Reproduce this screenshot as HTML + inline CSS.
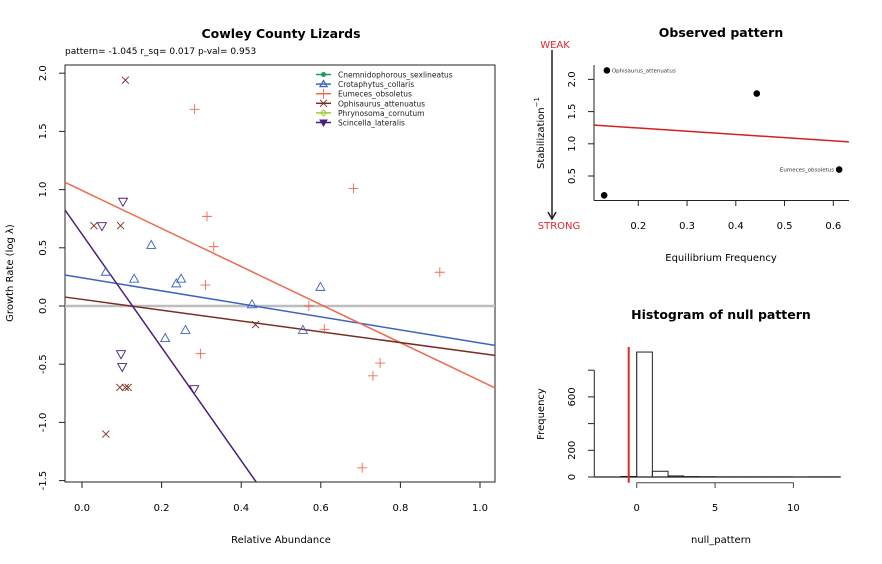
<!DOCTYPE html>
<html><head><meta charset="utf-8"><style>
html,body{margin:0;padding:0;background:#fff;}
svg{display:block;font-family:"DejaVu Sans","Liberation Sans",sans-serif;}
</style></head><body>
<svg id="svg" width="882" height="564" viewBox="0 0 882 564">
<text x="281" y="38" font-size="12.5" font-weight="bold" text-anchor="middle">Cowley County Lizards</text>
<text x="65" y="54" font-size="9">pattern= -1.045 r_sq= 0.017 p-val= 0.953</text>
<text x="281" y="543" font-size="10" text-anchor="middle">Relative Abundance</text>
<text transform="translate(13,273) rotate(-90)" font-size="10" text-anchor="middle">Growth Rate (log  λ)</text>
<g id="main"></g>
<text x="721" y="37" font-size="12.5" font-weight="bold" text-anchor="middle">Observed pattern</text>
<text x="721" y="261" font-size="10" text-anchor="middle">Equilibrium Frequency</text>
<text transform="translate(544,133) rotate(-90)" font-size="10" text-anchor="middle">Stabilization<tspan dy="-5" font-size="7">−1</tspan></text>
<text x="555" y="48" font-size="10" fill="#e3262b" text-anchor="middle">WEAK</text>
<text x="559" y="229" font-size="10" fill="#e3262b" text-anchor="middle">STRONG</text>
<g><line x1="552" y1="50" x2="552" y2="219" stroke="#222" stroke-width="1.5"/><polyline points="548,212 552,219 556,212" fill="none" stroke="#222" stroke-width="1.5"/></g>
<g id="obs"></g>
<text x="721" y="319" font-size="12.5" font-weight="bold" text-anchor="middle">Histogram of null pattern</text>
<text x="721" y="543" font-size="10" text-anchor="middle">null_pattern</text>
<text transform="translate(544,414) rotate(-90)" font-size="10" text-anchor="middle">Frequency</text>
<g id="hist"></g>
</svg>
<script>
// ---- main chart data ----
const species = ["Cnemnidophorous_sexlineatus","Crotaphytus_collaris","Eumeces_obsoletus","Ophisaurus_attenuatus","Phrynosoma_cornutum","Scincella_lateralis"];
const crotX = [0.174,0.060,0.131,0.237,0.249,0.599,0.427,0.260,0.209,0.555];
const crotY = [0.52,0.29,0.23,0.19,0.23,0.16,0.01,-0.21,-0.28,-0.21];
const eumX = [0.283,0.314,0.331,0.310,0.682,0.899,0.298,0.570,0.609,0.749,0.731,0.704];
const eumY = [1.69,0.77,0.51,0.18,1.01,0.29,-0.41,0.00,-0.20,-0.49,-0.60,-1.39];
const ophX = [0.109,0.030,0.097,0.436,0.095,0.109,0.116,0.060];
const ophY = [1.94,0.69,0.69,-0.16,-0.70,-0.70,-0.70,-1.10];
const sciX = [0.103,0.050,0.098,0.101,0.282];
const sciY = [0.90,0.69,-0.41,-0.52,-0.71];
const fitSlope = [-0.559,-1.635,-0.464,-4.864];
const fitIntercept = [0.242,0.993,0.057,0.617];
const xTicks = [0,0.2,0.4,0.6,0.8,1.0];
const xTickLabels = ["0.0","0.2","0.4","0.6","0.8","1.0"];
const yTicks = [2,1.5,1,0.5,0,-0.5,-1,-1.5];
const yTickLabels = ["2.0","1.5","1.0","0.5","0.0","-0.5","-1.0","-1.5"];
// ---- observed pattern data ----
const obsX = [0.1355,0.443,0.612,0.130];
const obsY = [2.14,1.78,0.60,0.20];
const obsLabels = ["Ophisaurus_attenuatus","","Eumeces_obsoletus",""];
const obsSlope = -0.498, obsIntercept = 1.345;
const obsXTicks = [0.2,0.3,0.4,0.5,0.6];
const obsYTicks = [0.5,1.0,1.5,2.0];
// ---- histogram data ----
const binStart = [-3,-2,-1,0,1,2,3,4,5,6,7,8,9,10,11,12];
const binCounts = [0,0,4,936,43,8,3,2,1,1,1,1,1,0,1,1];
const histXTicks = [0,5,10];
const histYTicks = [0,200,400,600,800];
const histYLabels = ["0","200","","600",""];
const observedPattern = -0.51;

const NS="http://www.w3.org/2000/svg";
function mk(parent,tag,attrs,text){const e=document.createElementNS(NS,tag);for(const k in attrs)e.setAttribute(k,attrs[k]);if(text!==undefined)e.textContent=text;parent.appendChild(e);return e;}

// main
const M=document.getElementById('main');
const L=65,R=495,T=65,B=482;
const sx=v=>82+v*398, sy=v=>306-v*116.4;
const xmin=(L-82)/398, xmax=(R-82)/398, ymax=(306-T)/116.4, ymin=(306-B)/116.4;
let box=mk(M,'rect',{x:L,y:T,width:R-L,height:B-T,fill:'none',stroke:'#222','stroke-width':1});


xTicks.forEach((v,i)=>{mk(M,'line',{x1:sx(v),y1:B,x2:sx(v),y2:B+6,stroke:'#222'});
 const t=mk(M,'text',{x:sx(v),y:511,'font-size':10,'text-anchor':'middle'},xTickLabels[i]);
 
 });
yTicks.forEach((v,i)=>{mk(M,'line',{x1:L,y1:sy(v),x2:L-6,y2:sy(v),stroke:'#222'});
 const t=mk(M,'text',{transform:`translate(46,${sy(v)}) rotate(-90)`,'font-size':10,'text-anchor':'middle'},yTickLabels[i]);
 
 });
const zl=mk(M,'line',{x1:L,y1:sy(0),x2:R,y2:sy(0),stroke:'#bdbdbd','stroke-width':2.5});


const colors={crot:'#3e62c0',eum:'#ee6a50',oph:'#7a2e22',sci:'#4a1f7c'};
const lineCols=[colors.crot,colors.eum,colors.oph,colors.sci];
const lineNames=['crotaphytus-fit-line','eumeces-fit-line','ophisaurus-fit-line','scincella-fit-line'];
fitSlope.forEach((m,i)=>{const b=fitIntercept[i];
 let x1=xmin,y1=b+m*x1,x2=xmax,y2=b+m*x2;
 if(y1>ymax){x1=(ymax-b)/m;y1=ymax;} if(y1<ymin){x1=(ymin-b)/m;y1=ymin;}
 if(y2>ymax){x2=(ymax-b)/m;y2=ymax;} if(y2<ymin){x2=(ymin-b)/m;y2=ymin;}
 const l=mk(M,'line',{x1:sx(x1),y1:sy(y1),x2:sx(x2),y2:sy(y2),stroke:lineCols[i],'stroke-width':1.5});
 
 });
function marker(g,type,x,y,c){
 if(type==='tri')return mk(g,'polygon',{points:`${x},${y-5} ${x-4.5},${y+3} ${x+4.5},${y+3}`,fill:'none',stroke:c,'stroke-width':0.9});
 if(type==='dtri')return mk(g,'polygon',{points:`${x},${y+5} ${x-4.5},${y-3} ${x+4.5},${y-3}`,fill:'none',stroke:c,'stroke-width':0.9});
 if(type==='plus')return mk(g,'path',{d:`M${x-5} ${y}H${x+5}M${x} ${y-5}V${y+5}`,stroke:c,'stroke-width':0.9,fill:'none'});
 if(type==='x')return mk(g,'path',{d:`M${x-3.5} ${y-3.5}L${x+3.5} ${y+3.5}M${x-3.5} ${y+3.5}L${x+3.5} ${y-3.5}`,stroke:c,'stroke-width':0.9,fill:'none'});
}
[[crotX,crotY,'tri',colors.crot,'crotaphytus-point'],[eumX,eumY,'plus',colors.eum,'eumeces-point'],[ophX,ophY,'x',colors.oph,'ophisaurus-point'],[sciX,sciY,'dtri',colors.sci,'scincella-point']].forEach(s=>{
 s[0].forEach((v,i)=>{const p=marker(M,s[2],sx(v),sy(s[1][i]),s[3]);
 
 });});
// legend
const legCols=['#1f9a5a',colors.crot,colors.eum,colors.oph,'#9acd32',colors.sci];
const legType=['circ','tri','plus','x','diam','dtri'];
species.forEach((n,i)=>{const y=74.5+i*9.6;
 const g=mk(M,'g',{});
 
 
 mk(g,'line',{x1:316,y1:y,x2:331,y2:y,stroke:legCols[i],'stroke-width':1.5});
 const c=legCols[i],x=323.5;
 if(legType[i]==='circ')mk(g,'circle',{cx:x,cy:y,r:2.5,fill:c});
 else if(legType[i]==='diam')mk(g,'polygon',{points:`${x},${y-3} ${x+3},${y} ${x},${y+3} ${x-3},${y}`,fill:'none',stroke:c});
 else if(legType[i]==='tri')mk(g,'polygon',{points:`${x},${y-3.5} ${x-3.5},${y+2.5} ${x+3.5},${y+2.5}`,fill:'none',stroke:c,'stroke-width':1.3});
 else if(legType[i]==='dtri')mk(g,'polygon',{points:`${x},${y+3.5} ${x-3.5},${y-2.5} ${x+3.5},${y-2.5}`,fill:c,stroke:c});
 else marker(g,legType[i],x,y,c);
 mk(g,'text',{x:338,y:y+3,'font-size':7.5,fill:'#222'},n);});

// observed pattern
const O=document.getElementById('obs');
const ox=v=>638.3+(v-0.2)*487.5, oy=v=>176-(v-0.5)*64.4;
mk(O,'line',{x1:594,y1:65,x2:594,y2:200.5,stroke:'#222'});
mk(O,'line',{x1:594,y1:200.5,x2:849,y2:200.5,stroke:'#222'});
obsXTicks.forEach(v=>{mk(O,'line',{x1:ox(v),y1:200.5,x2:ox(v),y2:206,stroke:'#222'});
 const t=mk(O,'text',{x:ox(v),y:229,'font-size':10,'text-anchor':'middle'},v.toFixed(1));
 
 });
obsYTicks.forEach(v=>{mk(O,'line',{x1:594,y1:oy(v),x2:588,y2:oy(v),stroke:'#222'});
 const t=mk(O,'text',{transform:`translate(575,${oy(v)}) rotate(-90)`,'font-size':10,'text-anchor':'middle'},v.toFixed(1));
 
 });
{const x1=0.110,x2=0.632;const l=mk(O,'line',{x1:ox(x1),y1:oy(obsIntercept+obsSlope*x1),x2:ox(x2),y2:oy(obsIntercept+obsSlope*x2),stroke:'#d62020','stroke-width':1.5});
 
 }
obsX.forEach((v,i)=>{const c=mk(O,'circle',{cx:ox(v),cy:oy(obsY[i]),r:3.3,fill:'#000'});
 
 
 if(obsLabels[i]){const left=i===0;
  const t=mk(O,'text',{x:ox(v)+(left?5:-5),y:oy(obsY[i])+2,'font-size':5.5,fill:'#333','text-anchor':left?'start':'end'},obsLabels[i]);
  
  }});

// histogram
const H=document.getElementById('hist');
const hx=v=>636.7+v*15.67, hy=v=>477-v*0.1335;
mk(H,'line',{x1:594.3,y1:hy(0),x2:594.3,y2:hy(800),stroke:'#222'});
histYTicks.forEach((v,i)=>{mk(H,'line',{x1:594.3,y1:hy(v),x2:588,y2:hy(v),stroke:'#222'});
 if(histYLabels[i]){const t=mk(H,'text',{transform:`translate(575,${hy(v)}) rotate(-90)`,'font-size':10,'text-anchor':'middle'},histYLabels[i]);
 
 }});
mk(H,'line',{x1:hx(0),y1:482.7,x2:hx(10),y2:482.7,stroke:'#444'});
histXTicks.forEach(v=>{mk(H,'line',{x1:hx(v),y1:482.7,x2:hx(v),y2:488,stroke:'#444'});
 const t=mk(H,'text',{x:hx(v),y:511,'font-size':10,'text-anchor':'middle'},String(v));
 
 });
const bl=mk(H,'line',{x1:594.3,y1:hy(0),x2:840,y2:hy(0),stroke:'#222','stroke-width':1.2});


mk(H,'line',{x1:hx(0),y1:hy(936),x2:hx(0),y2:hy(0),stroke:'#888','stroke-width':1});
binStart.forEach((b,i)=>{const r=mk(H,'rect',{x:hx(b),y:hy(binCounts[i]),width:15.67,height:Math.max(0,hy(0)-hy(binCounts[i])),fill:'none',stroke:'#222','stroke-width':1});
 
 });
const rl=mk(H,'line',{x1:hx(observedPattern),y1:347,x2:hx(observedPattern),y2:482.7,stroke:'#e02828','stroke-width':2});


</script>
</body></html>
